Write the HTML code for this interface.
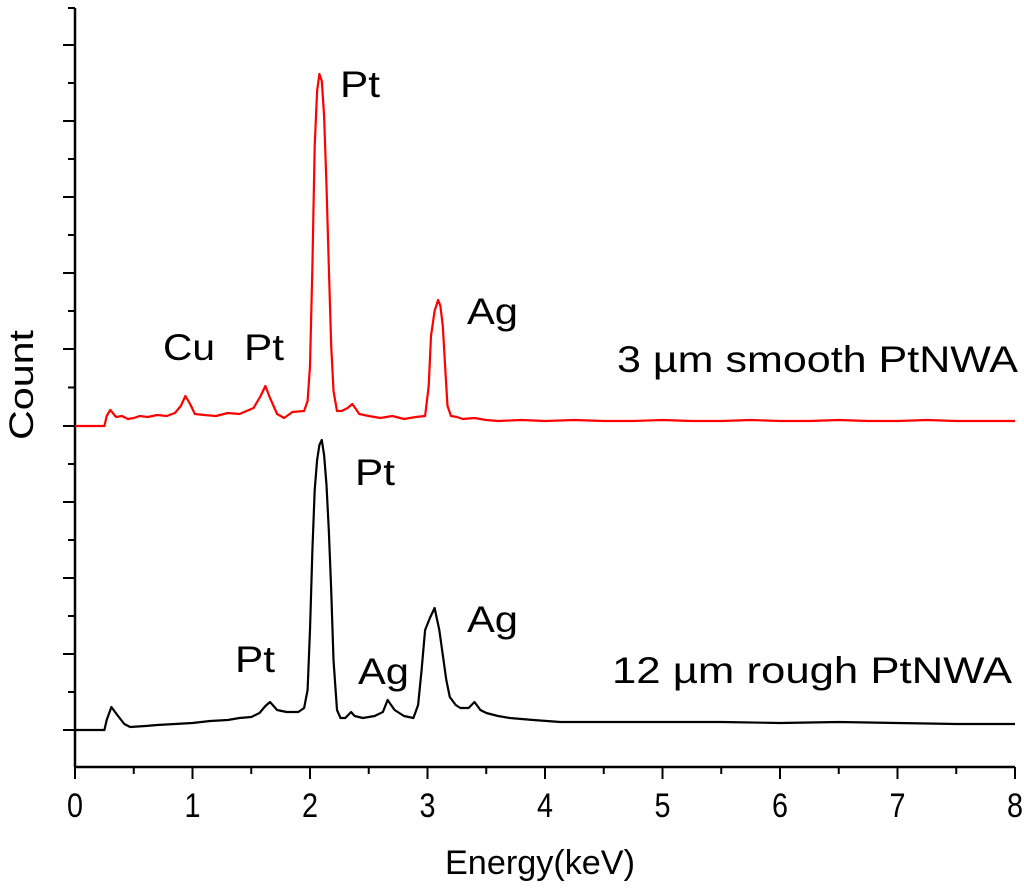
<!DOCTYPE html>
<html><head><meta charset="utf-8"><style>
html,body{margin:0;padding:0;background:#fff;}
svg{display:block;font-family:"Liberation Sans",sans-serif;}
</style></head><body>
<svg id="chart" width="1024" height="891" viewBox="0 0 1024 891">
<g id="axes"></g>
<g id="series"></g>
<g id="labels" font-size="37">
<text x="0" y="0" transform="translate(33,385) rotate(-90)" text-anchor="middle" font-size="34" textLength="110" lengthAdjust="spacingAndGlyphs">Count</text>
<text x="445" y="874" font-size="34" textLength="190" lengthAdjust="spacingAndGlyphs">Energy(keV)</text>
<text x="340" y="97" textLength="40" lengthAdjust="spacingAndGlyphs">Pt</text>
<text x="163" y="360" textLength="52" lengthAdjust="spacingAndGlyphs">Cu</text>
<text x="244" y="360" textLength="40" lengthAdjust="spacingAndGlyphs">Pt</text>
<text x="467" y="324" textLength="51" lengthAdjust="spacingAndGlyphs">Ag</text>
<text x="617" y="372" textLength="401" lengthAdjust="spacingAndGlyphs">3 µm smooth PtNWA</text>
<text x="355" y="485" textLength="40" lengthAdjust="spacingAndGlyphs">Pt</text>
<text x="235" y="672" textLength="40" lengthAdjust="spacingAndGlyphs">Pt</text>
<text x="358" y="684" textLength="51" lengthAdjust="spacingAndGlyphs">Ag</text>
<text x="467" y="632" textLength="51" lengthAdjust="spacingAndGlyphs">Ag</text>
<text x="612" y="683" textLength="400" lengthAdjust="spacingAndGlyphs">12 µm rough PtNWA</text>
</g>
</svg>
<script>
const xTicks = [0,1,2,3,4,5,6,7,8];
const redE = [0,0.25,0.27,0.3,0.35,0.4,0.45,0.5,0.55,0.62,0.7,0.78,0.85,0.9,0.94,0.98,1.02,1.1,1.2,1.3,1.4,1.52,1.58,1.62,1.66,1.72,1.78,1.85,1.95,1.98,2.0,2.02,2.04,2.06,2.08,2.1,2.12,2.14,2.16,2.18,2.2,2.23,2.27,2.32,2.36,2.42,2.5,2.6,2.7,2.8,2.9,2.98,3.01,3.03,3.06,3.09,3.11,3.13,3.15,3.17,3.2,3.25,3.3,3.4,3.5,3.6,3.8,4,4.25,4.5,4.75,5,5.25,5.5,5.75,6,6.25,6.5,6.75,7,7.25,7.5,7.75,8];
const redV = [0,0,10,16,9,10,7,8,10,9,11,10,13,20,30,22,12,11,10,13,12,18,30,40,28,12,8,14,15,25,60,160,280,335,352,345,310,240,160,80,35,15,15,18,22,12,10,8,10,7,9,10,40,90,115,126,120,100,60,20,10,9,7,8,6,5,6,5,6,5,5,6,5,5,6,5,5,6,5,5,6,5,5,5];
const blackE = [0,0.25,0.27,0.31,0.36,0.42,0.47,0.6,0.7,0.85,1,1.15,1.3,1.4,1.5,1.57,1.62,1.66,1.72,1.8,1.9,1.95,1.98,2.0,2.02,2.04,2.06,2.08,2.1,2.12,2.14,2.16,2.18,2.2,2.23,2.26,2.3,2.35,2.38,2.45,2.55,2.62,2.66,2.72,2.8,2.88,2.92,2.95,2.98,3.02,3.06,3.1,3.13,3.16,3.19,3.24,3.28,3.35,3.4,3.45,3.5,3.6,3.7,3.9,4.13,4.5,5,5.5,6,6.5,7,7.5,8];
const blackV = [0,0,10,23,15,6,3,4,5,6,7,9,10,12,13,17,24,28,20,18,18,22,40,100,180,240,270,285,290,275,245,200,140,70,20,12,12,18,14,12,14,18,30,20,14,12,25,60,100,112,122,100,75,50,33,25,22,22,28,20,17,14,12,10,8,8,8,8,7,8,7,6,6];
const yMajor = [45,121,197,273,349,426,502,578,654,730];

const NS = "http://www.w3.org/2000/svg";
const X0 = 75, X1 = 1015, AXY = 767;
const xs = e => X0 + (e - 0) / 8 * (X1 - X0);
const yRed = v => 426 - v;
const yBlack = v => 730 - v;
function mk(tag, attrs, parent){const el=document.createElementNS(NS,tag);for(const k in attrs)el.setAttribute(k,attrs[k]);parent.appendChild(el);return el;}
const axes = document.getElementById('axes');
const yAxis = mk('line',{x1:X0,y1:8,x2:X0,y2:AXY,stroke:'#000','stroke-width':2.5},axes);


const xAxis = mk('line',{x1:X0,y1:AXY,x2:X1,y2:AXY,stroke:'#000','stroke-width':2.5},axes);


yMajor.forEach((y,i)=>{
  const t = mk('line',{x1:X0-12,y1:y,x2:X0,y2:y,stroke:'#000','stroke-width':2},axes);
  
  
  if(i<yMajor.length-1){
    const m = mk('line',{x1:X0-7,y1:(y+yMajor[i+1])/2,x2:X0,y2:(y+yMajor[i+1])/2,stroke:'#000','stroke-width':2},axes);
    
    
  }
});
const m0 = mk('line',{x1:X0-7,y1:8,x2:X0,y2:8,stroke:'#000','stroke-width':2},axes);


xTicks.forEach((v,i)=>{
  const x = xs(v);
  const t = mk('line',{x1:x,y1:AXY,x2:x,y2:AXY+12,stroke:'#000','stroke-width':2},axes);
  
  
  if(i<xTicks.length-1){
    const mx = xs(v+0.5);
    const m = mk('line',{x1:mx,y1:AXY,x2:mx,y2:AXY+7,stroke:'#000','stroke-width':2},axes);
    
    
  }
  const lb = mk('text',{x:x,y:817,'text-anchor':'middle','font-size':34,textLength:16,lengthAdjust:'spacingAndGlyphs'},axes);
  lb.textContent = v;
  
  
});
const series = document.getElementById('series');
function line(E,V,yf,color,name){
  const d = E.map((e,i)=>(i?'L':'M')+xs(e).toFixed(1)+' '+yf(V[i]).toFixed(1)).join(' ');
  const p = mk('path',{d:d,fill:'none',stroke:color,'stroke-width':2.2,'stroke-linejoin':'round'},series);
  
  
}
line(redE,redV,yRed,'#ff0000','series-smooth-ptnwa');
line(blackE,blackV,yBlack,'#000','series-rough-ptnwa');
</script>
</body></html>
